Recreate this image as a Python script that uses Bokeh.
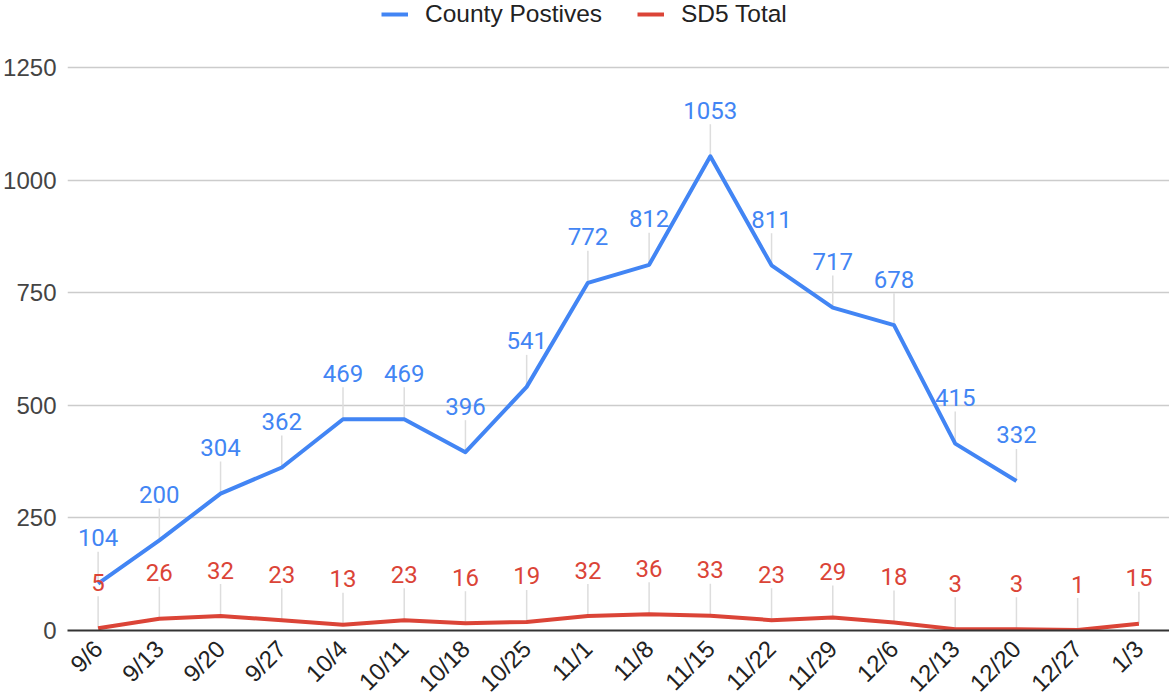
import math
from bokeh.plotting import figure
from bokeh.core.properties import value
from bokeh.models import (ColumnDataSource, LabelSet, Legend, LegendItem,
                          FactorRange, Range1d, FixedTicker)
from bokeh.embed import file_html
from bokeh.resources import INLINE

dates = ["9/6", "9/13", "9/20", "9/27", "10/4", "10/11", "10/18", "10/25",
         "11/1", "11/8", "11/15", "11/22", "11/29", "12/6", "12/13", "12/20",
         "12/27", "1/3"]
county_positives = [104, 200, 304, 362, 469, 469, 396, 541, 772, 812, 1053,
                    811, 717, 678, 415, 332]
sd5_total = [5, 26, 32, 23, 13, 23, 16, 19, 32, 36, 33, 23, 29, 18, 3, 3, 1, 15]
y_ticks = [0, 250, 500, 750, 1000, 1250]

BLUE = "#4285F4"
RED = "#DB4437"

county_src = ColumnDataSource(dict(x=dates[:len(county_positives)],
                                   y=county_positives,
                                   t=[str(v) for v in county_positives]))
sd5_src = ColumnDataSource(dict(x=dates, y=sd5_total,
                                t=[str(v) for v in sd5_total]))

# headroom above the 1250 gridline holds the legend
p = figure(x_range=FactorRange(*dates), y_range=Range1d(0, 1399),
           frame_width=1102, frame_height=630, output_backend="svg",
           toolbar_location=None, min_border_left=0, min_border_right=0,
           min_border_top=0, min_border_bottom=0)
p.outline_line_color = None
p.background_fill_color = "white"

# leader lines
p.ray(x="x", y="y", source=county_src, length=32, length_units="screen",
      angle=90, angle_units="deg", line_color="#dddddd", line_width=1.5)
p.ray(x="x", y="y", source=sd5_src, length=32, length_units="screen",
      angle=90, angle_units="deg", line_color="#dddddd", line_width=1.5)

r_county = p.line(x="x", y="y", source=county_src, line_color=BLUE,
                  line_width=4, line_join="round")
r_sd5 = p.line(x="x", y="y", source=sd5_src, line_color=RED,
               line_width=4, line_join="round")

for src, col in ((county_src, BLUE), (sd5_src, RED)):
    p.add_layout(LabelSet(x="x", y="y", text="t", source=src, y_offset=46,
                          text_align="center", text_baseline="middle",
                          text_font=value("Roboto"), text_font_size=value("24px"),
                          text_color=value(col)))

p.xgrid.grid_line_color = None
p.ygrid.grid_line_color = "#cccccc"
p.ygrid.grid_line_width = 1.5

p.yaxis.ticker = FixedTicker(ticks=y_ticks)
p.yaxis.axis_line_color = None
p.yaxis.major_tick_line_color = None
p.yaxis.minor_tick_line_color = None
p.yaxis.major_label_standoff = 5
p.yaxis.major_label_text_font = "Liberation Sans"
p.yaxis.major_label_text_font_size = "24px"
p.yaxis.major_label_text_color = "#444444"

p.xaxis.axis_line_color = "#333333"
p.xaxis.axis_line_width = 2
p.xaxis.major_tick_line_color = None
p.xaxis.minor_tick_line_color = None
p.xaxis.major_label_orientation = math.pi / 4
p.xaxis.major_label_standoff = 8
p.xaxis.major_label_text_font = "Liberation Sans"
p.xaxis.major_label_text_font_size = "24px"
p.xaxis.major_label_text_color = "#222222"

legend = Legend(items=[LegendItem(label="County Postives", renderers=[r_county]),
                       LegendItem(label="SD5 Total", renderers=[r_sd5])],
                orientation="horizontal", location=(314, 602),
                glyph_width=27, label_standoff=17, spacing=35,
                border_line_color=None, background_fill_alpha=0,
                padding=0, margin=0,
                label_text_font="Liberation Sans", label_text_font_size="24.5px",
                label_text_color="#222222")
p.add_layout(legend)

open("out.html", "w").write(file_html(p, INLINE))
